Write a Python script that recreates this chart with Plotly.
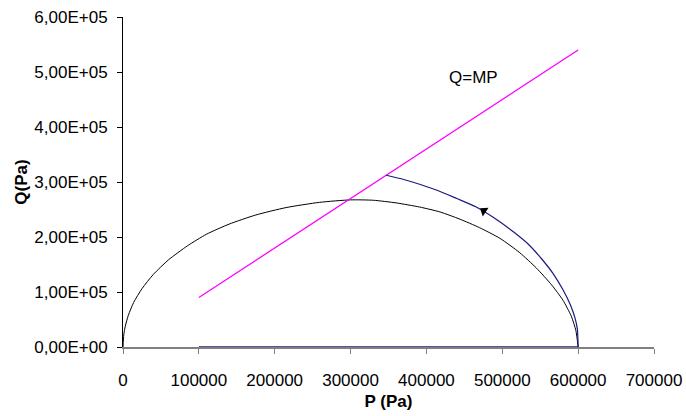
import plotly.graph_objects as go

# Yield curve (black)
ellipse_p = [0, 1000, 3000, 7000, 14000, 25000, 40000, 60000, 85000, 110000, 140000, 175000,
             215000, 259000, 300000, 330000, 360000, 391000, 418000, 444000, 470000, 497000,
             523000, 545000, 565000, 580000, 591000, 597000, 600000]
ellipse_q = [0, 21900, 37800, 57500, 80900, 106000, 132000, 158500, 184000, 205000, 223500, 240000,
             253500, 263000, 267500, 266800, 262000, 254500, 245500, 232500, 217000, 197500,
             171500, 143500, 113000, 85000, 56000, 30000, 0]

# Stress path (blue): drained loading along the axis, then the curved path
base_p = [100000, 600000]
base_q = [0, 0]
path_p = [600000, 599000, 596000, 590000, 580000, 567000, 552000, 535000, 515000, 490000,
          465000, 440000, 415000, 392000, 370000, 347000]
path_q = [0, 32000, 52000, 76000, 104000, 133500, 160000, 186000, 209000, 234000,
          255000, 270000, 284500, 295500, 304500, 312200]

# Critical state line Q = M P (magenta)
line_p = [100000, 600000]
line_q = [90000, 540000]

arrow_p = [475600]
arrow_q = [247500]

x_ticks = [0, 100000, 200000, 300000, 400000, 500000, 600000, 700000]
x_ticklabels = ["0", "100000", "200000", "300000", "400000", "500000", "600000", "700000"]
y_ticks = [0, 100000, 200000, 300000, 400000, 500000, 600000]
y_ticklabels = ["0,00E+00", "1,00E+05", "2,00E+05", "3,00E+05", "4,00E+05", "5,00E+05", "6,00E+05"]

FONT = "Liberation Sans, Arial, sans-serif"
BLUE = "#1a1a80"

fig = go.Figure()
fig.add_trace(go.Scatter(x=ellipse_p, y=ellipse_q, mode="lines",
                         line=dict(color="black", width=1, shape="spline", smoothing=0.6),
                         cliponaxis=False, showlegend=False, hoverinfo="skip"))
fig.add_trace(go.Scatter(x=line_p, y=line_q, mode="lines",
                         line=dict(color="#FF00FF", width=1.3),
                         cliponaxis=False, showlegend=False, hoverinfo="skip"))
fig.add_trace(go.Scatter(x=base_p, y=base_q, mode="lines",
                         line=dict(color=BLUE, width=1.5),
                         cliponaxis=False, showlegend=False, hoverinfo="skip"))
fig.add_trace(go.Scatter(x=path_p, y=path_q, mode="lines",
                         line=dict(color=BLUE, width=1.2, shape="spline", smoothing=0.6),
                         cliponaxis=False, showlegend=False, hoverinfo="skip"))
fig.add_trace(go.Scatter(x=arrow_p, y=arrow_q, mode="markers",
                         marker=dict(symbol="triangle-up", size=9, color="black", angle=-56,
                                     line=dict(width=0)),
                         cliponaxis=False, showlegend=False, hoverinfo="skip"))

fig.add_annotation(x=462000, y=490000, text="Q=MP", showarrow=False,
                   font=dict(family=FONT, size=17, color="black"))

fig.update_layout(
    width=686, height=416,
    margin=dict(l=123, r=32, t=17, b=69),
    paper_bgcolor="white", plot_bgcolor="white",
    font=dict(family=FONT, size=17, color="black"),
)
fig.update_xaxes(
    range=[0, 700000], tickvals=x_ticks, ticktext=x_ticklabels, automargin=False,
    showgrid=False, zeroline=False, showline=True, linecolor="#808080", linewidth=1.5,
    ticks="outside", ticklen=5, tickcolor="#808080", tickwidth=1,
    ticklabelstandoff=12,
    layer="below traces",
    title=dict(text="<b>P (Pa)</b>", font=dict(family=FONT, size=17), standoff=6),
    tickfont=dict(family=FONT, size=17),
)
fig.update_yaxes(
    range=[0, 600000], tickvals=y_ticks, ticktext=y_ticklabels, automargin=False,
    showgrid=False, zeroline=False, showline=True, linecolor="black", linewidth=1,
    ticks="outside", ticklen=5, tickcolor="black", tickwidth=1,
    ticklabelstandoff=6,
    title=dict(text="<b>Q(Pa)</b>", font=dict(family=FONT, size=17), standoff=2),
    tickfont=dict(family=FONT, size=17),
)

fig.write_html("out.html")
